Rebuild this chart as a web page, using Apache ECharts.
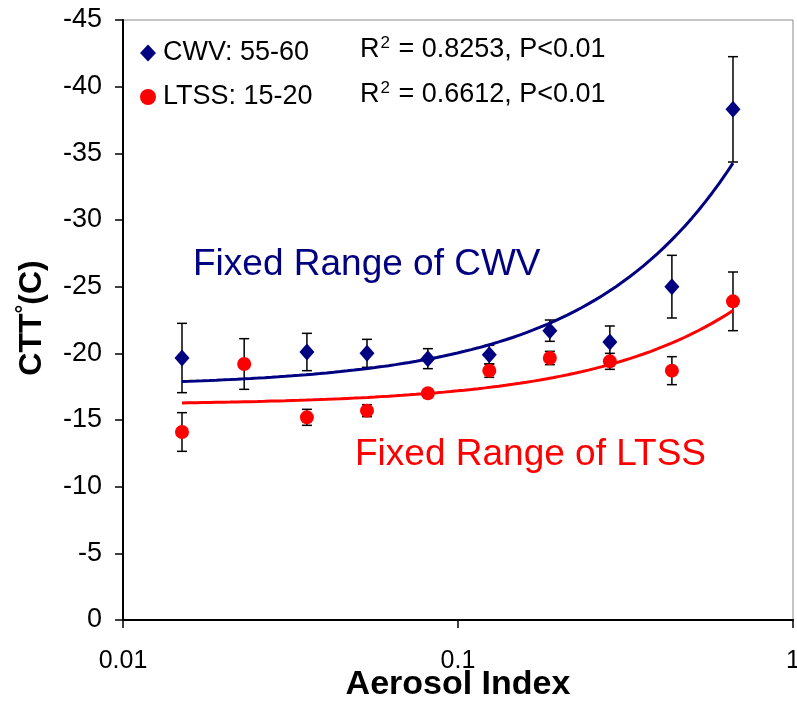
<!DOCTYPE html>
<html><head><meta charset="utf-8">
<script src="https://cdn.jsdelivr.net/npm/echarts@6/dist/echarts.min.js"></script>
<style>html,body{margin:0;padding:0;background:#fff}#c{width:797px;height:704px}</style>
</head><body><div id="c"></div>
<script>
// ---- data ----
const seriesNames = ['CWV: 55-60', 'LTSS: 15-20'];
const r2Values = ['0.8253', '0.6612'];
const pValues = ['P<0.01', 'P<0.01'];
const xTickLabels = ['0.01', '0.1', '1'];

const cwvX   = [0.015, 0.0354, 0.0535, 0.0813, 0.124, 0.188, 0.284, 0.435, 0.662];
const cwvY   = [-19.65, -20.1, -20.0, -19.6, -19.9, -21.7, -20.85, -25.0, -38.3];
const cwvErr = [2.6, 1.4, 1.05, 0.75, 0.7, 0.8, 1.2, 2.35, 3.95];

const ltssX   = [0.015, 0.023, 0.0354, 0.0535, 0.0813, 0.124, 0.188, 0.284, 0.435, 0.662];
const ltssY   = [-14.1, -19.2, -15.2, -15.7, -17.0, -18.7, -19.65, -19.4, -18.7, -23.9];
const ltssErr = [1.45, 1.9, 0.6, 0.45, 0.3, 0.5, 0.5, 0.6, 1.05, 2.2];

const annoCWV = 'Fixed Range of CWV';
const annoLTSS = 'Fixed Range of LTSS';
const xTitle = 'Aerosol Index';

// ---- linear least-squares trend (y = a + b x), drawn on the log axis ----
function trend(xs, ys) {
  const n = xs.length;
  const mx = xs.reduce((s, v) => s + v, 0) / n;
  const my = ys.reduce((s, v) => s + v, 0) / n;
  let sxy = 0, sxx = 0;
  for (let i = 0; i < n; i++) { sxy += (xs[i] - mx) * (ys[i] - my); sxx += (xs[i] - mx) ** 2; }
  const b = sxy / sxx, a = my - b * mx;
  const x0 = Math.min(...xs), x1 = Math.max(...xs);
  const pts = [];
  const N = 80;
  for (let k = 0; k <= N; k++) {
    const x = x0 * Math.pow(x1 / x0, k / N);
    pts.push([x, a + b * x]);
  }
  return pts;
}
const zip = (xs, ys) => xs.map((x, i) => [x, ys[i]]);
const errData = (xs, ys, es) => xs.map((x, i) => [x, ys[i] - es[i], ys[i] + es[i]]);

const FONT = "'Liberation Sans', Arial, sans-serif";
const NAVY = '#000080', RED = '#ff0000';

function errRender(params, api) {
  const x = api.value(0), lo = api.value(1), hi = api.value(2);
  const p1 = api.coord([x, lo]), p2 = api.coord([x, hi]);
  const w = 5;
  const st = { stroke: '#000', lineWidth: 1.5 };
  return { type: 'group', children: [
    { type: 'line', shape: { x1: p1[0], y1: p1[1], x2: p2[0], y2: p2[1] }, style: st },
    { type: 'line', shape: { x1: p1[0] - w, y1: p1[1], x2: p1[0] + w, y2: p1[1] }, style: st },
    { type: 'line', shape: { x1: p2[0] - w, y1: p2[1], x2: p2[0] + w, y2: p2[1] }, style: st }
  ]};
}

const chart = echarts.init(document.getElementById('c'), null, { renderer: 'canvas' });
chart.setOption({
  backgroundColor: '#fff',
  animation: false,
  textStyle: { fontFamily: FONT },
  grid: { left: 123, right: 4, top: 20, bottom: 84, show: true, borderColor: '#8a8a8a', borderWidth: 1,
          containLabel: false, outerBoundsMode: 'none' },
  legend: {
    orient: 'vertical', left: 135, top: 33, itemGap: 14,
    itemWidth: 16, itemHeight: 17,
    data: seriesNames,
    textStyle: { fontSize: 27, color: '#000', fontFamily: FONT, lineHeight: 30, padding: [0, 0, 0, 2] }
  },
  xAxis: {
    type: 'log', logBase: 10, min: 0.01, max: 1,
    axisLine: { lineStyle: { color: '#000', width: 2 } },
    axisTick: { show: true, length: 8, inside: false, lineStyle: { color: '#000', width: 1.5 } },
    minorTick: { show: false },
    splitLine: { show: false },
    axisLabel: {
      fontSize: 25, color: '#000', margin: 29, fontFamily: FONT,
      formatter: v => { const i = Math.round(Math.log10(v)) + 2; return xTickLabels[i] !== undefined ? xTickLabels[i] : ''; }
    }
  },
  yAxis: {
    type: 'value', min: -45, max: 0, interval: 5, inverse: true,
    axisLine: { show: true, lineStyle: { color: '#000', width: 2 } },
    axisTick: { show: true, length: 8, inside: false, lineStyle: { color: '#000', width: 1.5 } },
    splitLine: { show: false },
    axisLabel: { fontSize: 27, color: '#000', margin: 21, fontFamily: FONT }
  },
  graphic: [
    { type: 'text', x: 360, y: 50, z: 100,
      style: { text: '{a|R}{s|2}{a| = ' + r2Values[0] + ', ' + pValues[0] + '}', verticalAlign: 'middle',
        rich: { a: { fontSize: 27, fontFamily: FONT, fill: '#000' }, s: { fontSize: 17, fontFamily: FONT, fill: '#000', padding: [0, 1, 14, 1] } } } },
    { type: 'text', x: 360, y: 95, z: 100,
      style: { text: '{a|R}{s|2}{a| = ' + r2Values[1] + ', ' + pValues[1] + '}', verticalAlign: 'middle',
        rich: { a: { fontSize: 27, fontFamily: FONT, fill: '#000' }, s: { fontSize: 17, fontFamily: FONT, fill: '#000', padding: [0, 1, 14, 1] } } } },
    { type: 'text', x: 193, y: 265, z: 100,
      style: { text: annoCWV, fontSize: 37, fontFamily: FONT, fill: NAVY, verticalAlign: 'middle' } },
    { type: 'text', x: 355, y: 455, z: 100,
      style: { text: annoLTSS, fontSize: 37, fontFamily: FONT, fill: RED, verticalAlign: 'middle' } },
    { type: 'text', x: 458, y: 685, z: 100,
      style: { text: xTitle, fontSize: 34, fontWeight: 'bold', fontFamily: FONT, fill: '#000', align: 'center', verticalAlign: 'middle' } },
    { type: 'text', x: 32, y: 318, rotation: Math.PI / 2, z: 100,
      style: { text: '{a|CTT}{s|°}{a|(C)}', align: 'center', verticalAlign: 'middle',
        rich: { a: { fontSize: 32, fontWeight: 'bold', fontFamily: FONT, fill: '#000' },
                s: { fontSize: 22, fontWeight: 'bold', fontFamily: FONT, fill: '#000', padding: [0, 0, 14, 0] } } } }
  ],
  series: [
    { name: 'cwvErr', type: 'custom', renderItem: errRender, data: errData(cwvX, cwvY, cwvErr), encode: { x: 0, y: [1, 2] }, z: 1, silent: true },
    { name: 'ltssErr', type: 'custom', renderItem: errRender, data: errData(ltssX, ltssY, ltssErr), encode: { x: 0, y: [1, 2] }, z: 1, silent: true },
    { name: 'cwvTrend', type: 'line', data: trend(cwvX, cwvY), showSymbol: false, smooth: false, lineStyle: { color: NAVY, width: 3 }, z: 2, silent: true },
    { name: 'ltssTrend', type: 'line', data: trend(ltssX, ltssY), showSymbol: false, smooth: false, lineStyle: { color: RED, width: 3 }, z: 2, silent: true },
    { name: seriesNames[0], type: 'scatter', data: zip(cwvX, cwvY), symbol: 'diamond', symbolSize: [15, 17], itemStyle: { color: NAVY, opacity: 1 }, z: 3 },
    { name: seriesNames[1], type: 'scatter', data: zip(ltssX, ltssY), symbol: 'circle', symbolSize: 14, itemStyle: { color: RED, opacity: 1 }, z: 3 }
  ]
});
</script>
</body></html>
